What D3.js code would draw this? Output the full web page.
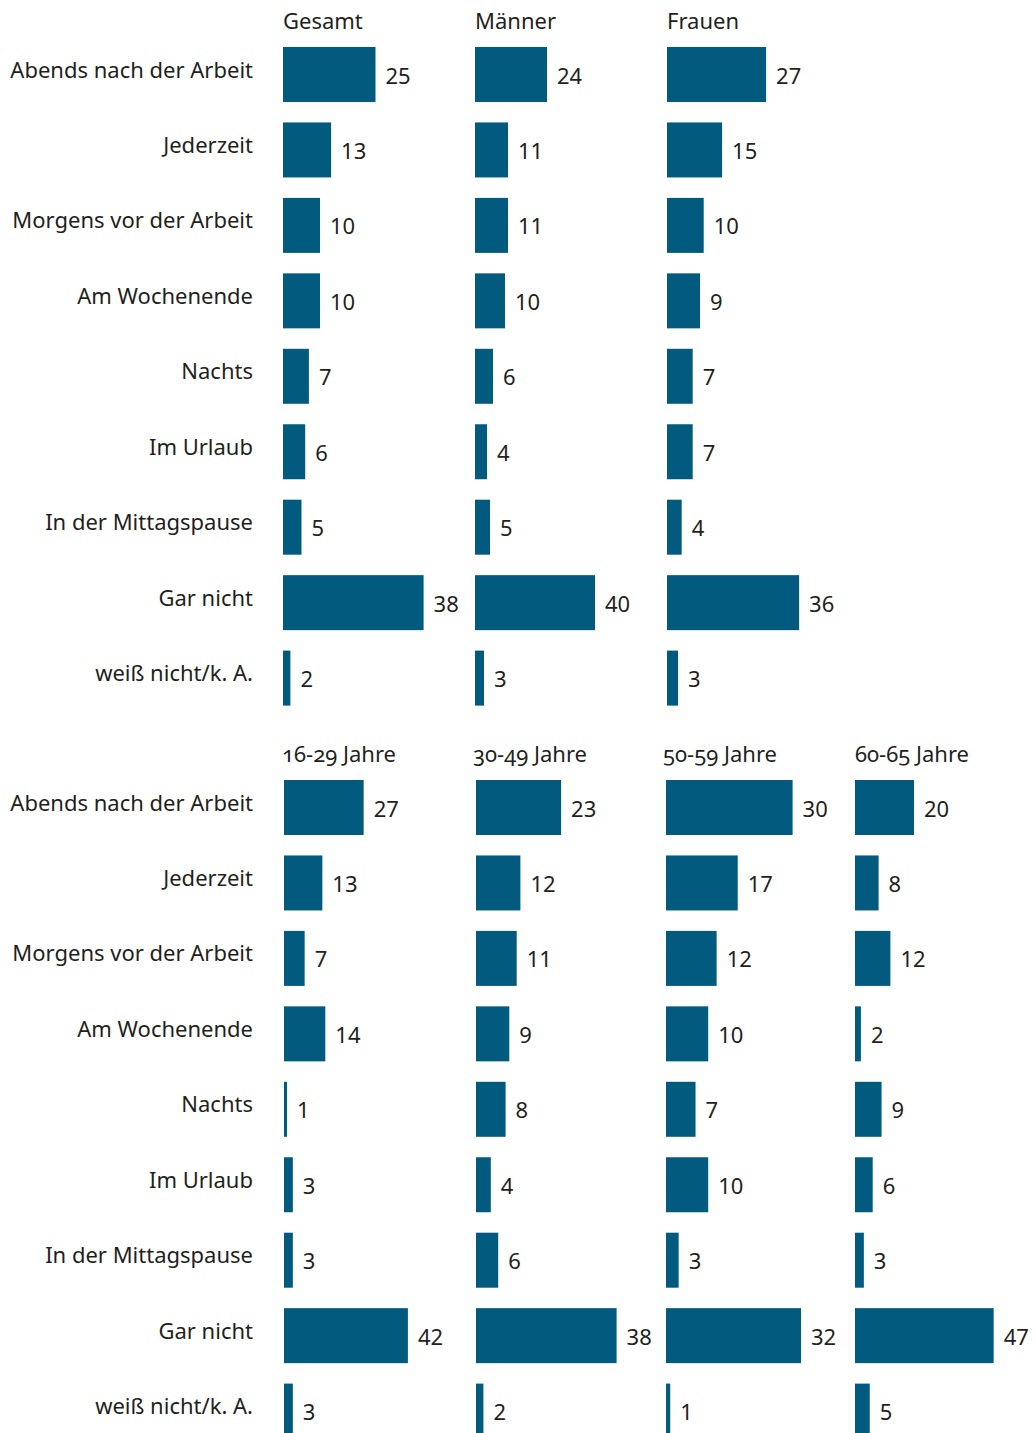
<!DOCTYPE html>
<html>
<head>
<meta charset="utf-8">
<script src="https://cdn.jsdelivr.net/npm/d3@7"></script>
<style>
  html, body { margin: 0; padding: 0; background: #fff; }
  svg { display: block; font-family: "Noto Sans", "Open Sans", sans-serif; }
  .cat { font-size: 22px; fill: #231f20; text-anchor: end; }
  .val { font-size: 22px; fill: #231f20; }
  .title { font-size: 22px; fill: #231f20; font-variant-numeric: oldstyle-nums; font-feature-settings: "onum" 1; }
</style>
</head>
<body>
<script>
// Answer categories (same order in every panel)
const categories = [
  "Abends nach der Arbeit", "Jederzeit", "Morgens vor der Arbeit", "Am Wochenende",
  "Nachts", "Im Urlaub", "In der Mittagspause", "Gar nicht", "weiß nicht/k. A."
];

// Shares in percent
const gesamt  = [25, 13, 10, 10, 7, 6, 5, 38, 2];
const maenner = [24, 11, 11, 10, 6, 4, 5, 40, 3];
const frauen  = [27, 15, 10, 9, 7, 7, 4, 36, 3];

const age1629 = [27, 13, 7, 14, 1, 3, 3, 42, 3];
const age3049 = [23, 12, 11, 9, 8, 4, 6, 38, 2];
const age5059 = [30, 17, 12, 10, 7, 10, 3, 32, 1];
const age6065 = [20, 8, 12, 2, 9, 6, 3, 47, 5];

const titlesTop    = ["Gesamt", "Männer", "Frauen"];
const titlesBottom = ["16-29 Jahre", "30-49 Jahre", "50-59 Jahre", "60-65 Jahre"];

const W = 1034, H = 1433;
const barColor = "#025b7e";

const svg = d3.select("body").append("svg")
  .attr("width", W).attr("height", H);

// Layout of the two blocks: x offset and pixels per percentage point for each panel
const blocks = [
  {
    top: 47, titleY: 29,
    panels: [
      { title: titlesTop[0], values: gesamt,  x: 283, titleX: 283, unit: 3.7 },
      { title: titlesTop[1], values: maenner, x: 475, titleX: 475, unit: 3.0 },
      { title: titlesTop[2], values: frauen,  x: 667, titleX: 667, unit: 3.67 }
    ]
  },
  {
    top: 780, titleY: 762,
    panels: [
      { title: titlesBottom[0], values: age1629, x: 284, titleX: 282, unit: 2.95 },
      { title: titlesBottom[1], values: age3049, x: 476, titleX: 473, unit: 3.7 },
      { title: titlesBottom[2], values: age5059, x: 666, titleX: 663, unit: 4.22 },
      { title: titlesBottom[3], values: age6065, x: 855, titleX: 855, unit: 2.95 }
    ]
  }
];

const step = 75.45, barH = 55;

blocks.forEach(block => {
  const n = categories.length;
  const y = d3.scaleBand()
    .domain(categories)
    .range([block.top, block.top + step * (n - 1) + barH])
    .paddingInner((step - barH) / step)
    .paddingOuter(0)
    .align(0);

  const g = svg.append("g");

  // category labels
  g.selectAll("text.cat")
    .data(categories)
    .join("text")
    .attr("class", "cat")
    .attr("x", 253)
    .attr("y", d => y(d) + y.bandwidth() / 2 + 3)
    .text(d => d);

  block.panels.forEach(p => {
    const x = d3.scaleLinear().domain([0, 10]).range([p.x, p.x + p.unit * 10]);
    const pg = g.append("g");

    pg.append("text")
      .attr("class", "title")
      .attr("x", p.titleX)
      .attr("y", block.titleY)
      .text(p.title);

    const rows = categories.map((c, i) => ({ c, v: p.values[i] }));

    pg.selectAll("rect")
      .data(rows)
      .join("rect")
      .attr("x", x(0))
      .attr("y", d => y(d.c))
      .attr("width", d => Math.max(3, x(d.v) - x(0)))
      .attr("height", y.bandwidth())
      .attr("fill", barColor);

    pg.selectAll("text.val")
      .data(rows)
      .join("text")
      .attr("class", "val")
      .attr("x", d => x(0) + Math.max(3, x(d.v) - x(0)) + 10)
      .attr("y", d => y(d.c) + y.bandwidth() / 2 + 9)
      .text(d => d.v);
  });
});
</script>
</body>
</html>
